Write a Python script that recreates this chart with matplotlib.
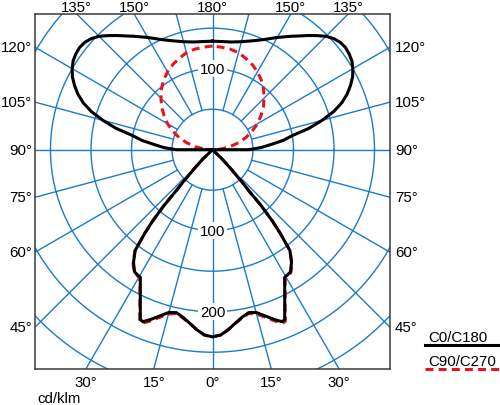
import numpy as np
import matplotlib.pyplot as plt
from matplotlib.lines import Line2D

plt.rcParams['font.family'] = ['Liberation Sans', 'DejaVu Sans']

# gamma: angle from nadir in degrees, intensity in cd/klm
gamma_c0 = [0, 2.5, 5, 7.5, 10, 12.5, 15, 17.5, 20, 22, 23, 25, 27.5, 29.5, 31, 32.5,
            35, 37.5, 39, 40, 41, 41.5, 42.5, 44, 46, 50, 60, 70, 80, 88,
            90, 92.5, 95, 97.5, 100, 102.5, 105, 107.5, 110, 112.5, 115, 117.5, 120,
            122.5, 125, 127.5, 130, 132.5, 135, 137.5, 140, 142.5, 145, 150, 155,
            160, 165, 170, 175, 180]
i_c0 = [231, 229, 223, 216, 210, 206, 208, 215, 223, 229, 228, 211, 193, 181, 180, 179,
        170, 157, 133, 115, 92, 68, 52, 32, 16, 0, 0, 0, 0, 0,
        45, 60, 72, 88, 100, 122, 140, 157, 170, 180, 188, 195, 200,
        204, 206, 207, 206, 203, 198, 191, 184, 177, 171, 160, 150,
        143, 138, 135, 134, 134]

gamma_c90 = [0, 2.5, 5, 7.5, 10, 12.5, 15, 17.5, 20, 22, 23, 25, 27.5, 29.5, 31, 32.5,
             35, 37.5, 39, 40, 41, 41.5, 42.5, 44, 46, 50, 60, 70, 80, 90,
             95, 100, 105, 110, 115, 120, 125, 130, 135, 140, 145, 150, 155,
             160, 165, 170, 175, 180]
i_c90 = [231, 229, 223, 216, 211, 207, 210, 217, 225, 231, 230, 212, 194, 182, 181, 180,
         171, 157, 133, 115, 92, 68, 52, 32, 16, 0, 0, 0, 0, 0,
         11, 22, 33, 44, 54, 64, 73, 82, 90, 98, 105, 111, 116,
         120, 124, 126, 127, 128]

circle_values = [50, 100, 150, 200, 250, 300, 350]
value_labels = [(180, 100), (0, 100), (0, 200)]
angle_ticks = [0, 15, 30, 45, 60, 75, 90, 105, 120, 135, 150, 180]

XMAX = 219.0
YTOP, YBOT = 167.5, -270.7
grid_col = '#1a7bcc'
FS = 10.8

fig = plt.figure(figsize=(5.0, 4.06), dpi=100)
ax = fig.add_axes([35 / 500, 36 / 406, 355 / 500, 355 / 406])
ax.set_xlim(-XMAX, XMAX)
ax.set_ylim(YBOT, YTOP)
ax.set_aspect('equal', adjustable='box')
ax.set_xticks([])
ax.set_yticks([])
for sp in ax.spines.values():
    sp.set_color('#3a3a3a')
    sp.set_linewidth(1.1)


def to_xy(g, i, side):
    g = np.radians(np.asarray(g, dtype=float))
    i = np.asarray(i, dtype=float)
    return side * i * np.sin(g), -i * np.cos(g)


# grid: circles
t = np.linspace(0, 2 * np.pi, 400)
for r in circle_values:
    ax.plot(r * np.cos(t), r * np.sin(t), color=grid_col, lw=1.0, zorder=1)
# grid: radial lines every 15 degrees from first circle, axes through the centre
for a in range(0, 360, 15):
    ra = np.radians(a)
    r0 = 0 if a % 90 == 0 else circle_values[0]
    ax.plot([r0 * np.sin(ra), 500 * np.sin(ra)], [-r0 * np.cos(ra), -500 * np.cos(ra)],
            color=grid_col, lw=1.0, zorder=1)

# value labels on the vertical axis
for g, v in value_labels:
    x, y = to_xy([g], [v], 1)
    ax.text(x[0], y[0], str(v), ha='center', va='center', fontsize=FS, zorder=3,
            bbox=dict(facecolor='white', edgecolor='none', pad=1.0))

# curves: C180/C270 on the left, C0/C90 on the right
for g, i, style in [(gamma_c90, i_c90, dict(color='#e8141c', lw=2.2, dashes=(2.6, 1.7))),
                    (gamma_c0, i_c0, dict(color='black', lw=2.2))]:
    xl, yl = to_xy(g, i, -1)
    xr, yr = to_xy(g, i, 1)
    ax.plot(np.r_[xl[::-1], xr], np.r_[yl[::-1], yr], zorder=4,
            solid_joinstyle='round', **style)

# angle labels at the frame
for a in angle_ticks:
    for side in ([1] if a in (0, 180) else [-1, 1]):
        ra = np.radians(a)
        dx, dy = side * np.sin(ra), -np.cos(ra)
        cands = []
        if abs(dx) > 1e-9:
            cands.append((XMAX / abs(dx), 'side'))
        if dy > 1e-9:
            cands.append((YTOP / dy, 'top'))
        if dy < -1e-9:
            cands.append((-YBOT / -dy, 'bottom'))
        tt, where = min(cands)
        px, py = tt * dx, tt * dy
        if where == 'top':
            off, ha, va = (0, 3), 'center', 'baseline'
        elif where == 'bottom':
            off, ha, va = (0, -6), 'center', 'top'
        elif side < 0:
            off, ha, va = (-3, 0), 'right', 'center'
        else:
            off, ha, va = (5, 0), 'left', 'center'
        ax.annotate(f'{a}°', (px, py), xytext=off, textcoords='offset pixels',
                    ha=ha, va=va, fontsize=FS, annotation_clip=False)

fig.text(37 / 500, 2.5 / 406, 'cd/klm', fontsize=FS, ha='left', va='baseline')

# legend
fig.text(428 / 500, (406 - 342.5) / 406, 'C0/C180', fontsize=FS, ha='left', va='baseline')
fig.add_artist(Line2D([425 / 500, 1.0], [(406 - 345.7) / 406] * 2, color='black', lw=2.2))
fig.text(428 / 500, (406 - 365.7) / 406, 'C90/C270', fontsize=FS, ha='left', va='baseline')
fig.add_artist(Line2D([425 / 500, 1.0], [(406 - 369.5) / 406] * 2, color='#e8141c', lw=2.2,
                      dashes=(2.6, 1.7)))

fig.savefig('out.png', dpi=100)
